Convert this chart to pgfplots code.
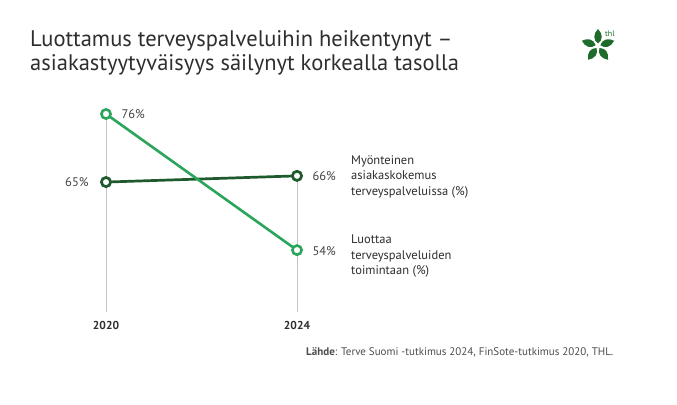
\documentclass[border=0pt]{standalone}
\usepackage{pgfplots}
\pgfplotsset{compat=1.18}
\usepackage{fontspec}
\setmainfont{PT Sans}
\definecolor{lgreen}{HTML}{2BA55B}
\definecolor{dgreen}{HTML}{1E5A2E}
\definecolor{txt}{HTML}{2E2E2E}
\definecolor{gridc}{HTML}{C4C4C4}
\definecolor{logog}{HTML}{1F6B2C}
\begin{document}
\begin{tikzpicture}[x=1bp,y=1bp]
\path[use as bounding box, fill=white] (0,0) rectangle (677,404);
% title
\node[anchor=base west, inner sep=0, text=txt, font=\fontsize{22.5bp}{25bp}\selectfont] at (30,358) {Luottamus terveyspalveluihin heikentynyt –};
\node[anchor=base west, inner sep=0, text=txt, font=\fontsize{22.5bp}{25bp}\selectfont] at (30,334) {asiakastyytyväisyys säilynyt korkealla tasolla};
% logo
\begin{scope}[shift={(598,358)}]
\foreach \a in {90,162,234,306,18}{
  \fill[logog, rotate=\a] (2.5,0) .. controls (6,5) and (12,5) .. (17,0) .. controls (12,-5) and (6,-5) .. (2.5,0) -- cycle;
}
\end{scope}
\node[anchor=base west, inner sep=0, text=logog, font=\fontsize{8bp}{9bp}\selectfont] at (605,368) {thl};
\begin{axis}[
  at={(106bp,92bp)}, anchor=south west,
  scale only axis, width=191bp, height=198bp,
  xmin=2020, xmax=2024, ymin=44, ymax=76,
  clip=false,
  axis line style={draw=none},
  ytick=\empty,
  xtick={2020,2024},
  xticklabels={2020,2024},
  major tick length=0pt,
  /pgf/number format/assume math mode=true,
  xticklabel style={font=\bfseries\fontsize{11.5bp}{13bp}\selectfont, text=txt, yshift=-6bp},
  every node near coord/.append style={font=\fontsize{12.5bp}{14bp}\selectfont, text=txt!90},
]
% drop lines
\addplot[gridc, line width=1bp] coordinates {(2020,44) (2020,76)};
\addplot[gridc, line width=1bp] coordinates {(2024,44) (2024,66)};
% series
\addplot[dgreen, line width=2.7bp, mark=*, mark size=4.6bp, mark options={fill=white, line width=2.7bp}] coordinates {(2020,65) (2024,66)};
\addplot[lgreen, line width=2.6bp, mark=*, mark size=4.6bp, mark options={fill=white, line width=2.6bp}] coordinates {(2020,76) (2024,54)};
% value labels
\addplot[draw=none, nodes near coords={\pgfmathprintnumber{\pgfplotspointmeta}\%}, every node near coord/.append style={anchor=west, xshift=12bp, yshift=-0.5bp}] coordinates {(2020,76) (2024,66) (2024,54)};
\addplot[draw=none, nodes near coords={\pgfmathprintnumber{\pgfplotspointmeta}\%}, every node near coord/.append style={anchor=east, xshift=-14bp, yshift=-0.5bp}] coordinates {(2020,65)};
\end{axis}
% series labels
\node[anchor=north west, inner sep=0, align=left, text=txt, font=\fontsize{12.5bp}{15.5bp}\selectfont] at (351,249) {Myönteinen\\asiakaskokemus\\terveyspalveluissa (\%)};
\node[anchor=north west, inner sep=0, align=left, text=txt, font=\fontsize{12.5bp}{15.5bp}\selectfont] at (351,169) {Luottaa\\terveyspalveluiden\\toimintaan (\%)};
% source
\node[anchor=base west, inner sep=0, text=txt!85, font=\fontsize{11bp}{12bp}\selectfont] at (306,49) {\textbf{Lähde}: Terve Suomi -tutkimus 2024, FinSote-tutkimus 2020, THL.};
\end{tikzpicture}
\end{document}
